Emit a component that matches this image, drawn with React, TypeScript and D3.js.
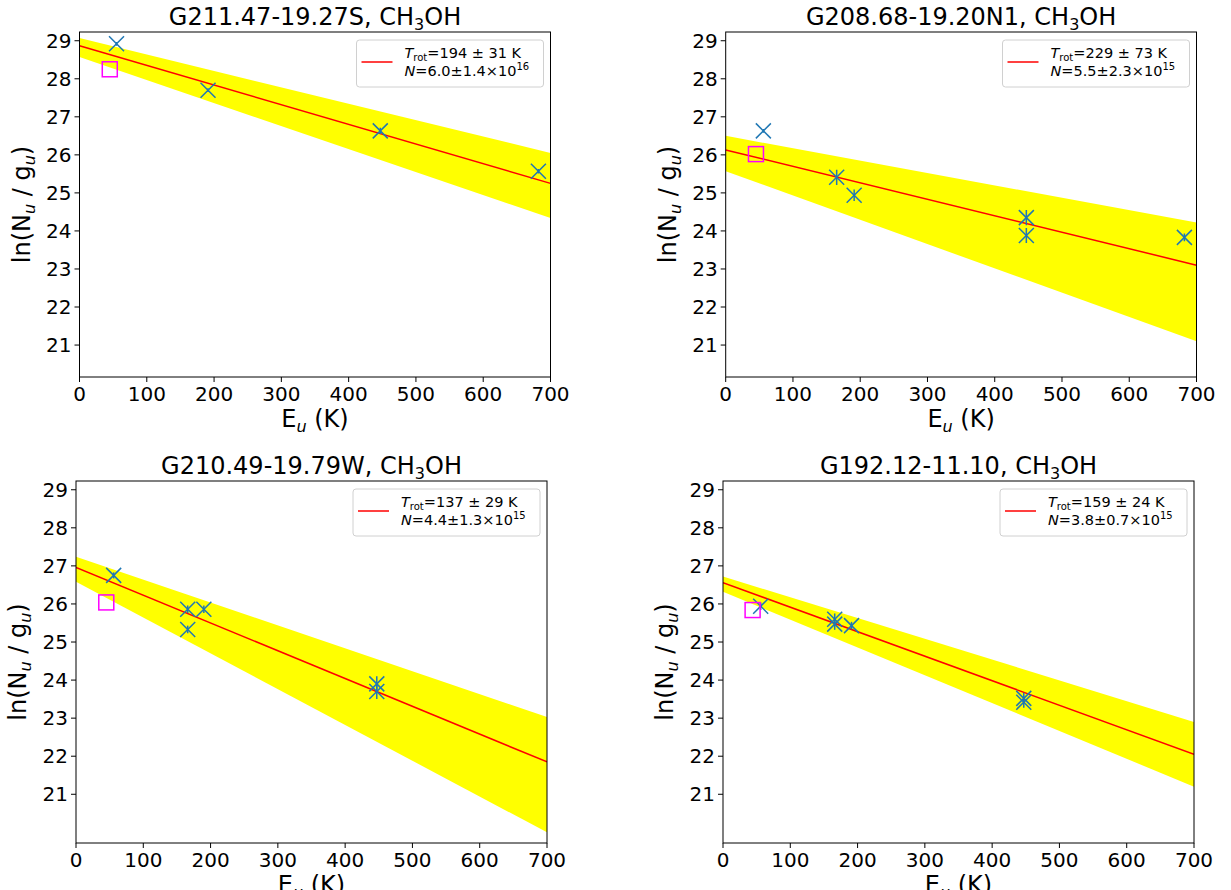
import React from "react";
import * as d3 from "d3";

// ---------- data ----------
const xTicks = [0, 100, 200, 300, 400, 500, 600, 700];
const yTicks = [21, 22, 23, 24, 25, 26, 27, 28, 29];
const fitE = [0, 700];

const titles = ["G211.47-19.27S", "G208.68-19.20N1", "G210.49-19.79W", "G192.12-11.10"];
const trotText = ["194 ± 31 K", "229 ± 73 K", "137 ± 29 K", "159 ± 24 K"];
const nMant = ["6.0±1.4×10", "5.5±2.3×10", "4.4±1.3×10", "3.8±0.7×10"];
const nExp = ["16", "15", "15", "15"];

const p1Eu = [55, 191, 447, 682];
const p1Ln = [28.92, 27.7, 26.63, 25.57];
const p1Err = [0.05, 0.05, 0.08, 0.06];
const p1Sq = [45, 28.25];
const p1Fit = [28.87, 25.25];
const p1BandTop = [29.07, 26.05];
const p1BandBot = [28.57, 24.34];

const p2Eu = [56, 165, 191, 447, 447, 682];
const p2Ln = [26.63, 25.41, 24.94, 24.35, 23.88, 23.83];
const p2Err = [0.05, 0.2, 0.15, 0.2, 0.2, 0.1];
const p2Sq = [45, 26.02];
const p2Fit = [26.13, 23.1];
const p2BandTop = [26.5, 24.22];
const p2BandBot = [25.57, 21.1];

const p3Eu = [56, 166, 190, 166, 447, 447];
const p3Ln = [26.75, 25.86, 25.86, 25.33, 23.9, 23.7];
const p3Err = [0.08, 0.1, 0.1, 0.1, 0.2, 0.2];
const p3Sq = [45, 26.04];
const p3Fit = [26.96, 21.85];
const p3BandTop = [27.24, 23.03];
const p3BandBot = [26.58, 20.0];

const p4Eu = [56, 166, 166, 191, 447, 447];
const p4Ln = [25.94, 25.6, 25.47, 25.43, 23.52, 23.42];
const p4Err = [0.1, 0.15, 0.15, 0.1, 0.15, 0.15];
const p4Sq = [44, 25.84];
const p4Fit = [26.56, 22.05];
const p4BandTop = [26.72, 22.9];
const p4BandBot = [26.32, 21.2];

const panelData = [
  { eu: p1Eu, ln: p1Ln, err: p1Err, sq: p1Sq, fit: p1Fit, top: p1BandTop, bot: p1BandBot },
  { eu: p2Eu, ln: p2Ln, err: p2Err, sq: p2Sq, fit: p2Fit, top: p2BandTop, bot: p2BandBot },
  { eu: p3Eu, ln: p3Ln, err: p3Err, sq: p3Sq, fit: p3Fit, top: p3BandTop, bot: p3BandBot },
  { eu: p4Eu, ln: p4Ln, err: p4Err, sq: p4Sq, fit: p4Fit, top: p4BandTop, bot: p4BandBot },
];

// ---------- layout ----------
const layouts = [
  { x0: 79.5, x1: 550.5, y0: 32, y1: 377, ymin: 20.16, ymax: 29.23 },
  { x0: 725.7, x1: 1196.5, y0: 32, y1: 377, ymin: 20.16, ymax: 29.23 },
  { x0: 76, x1: 547, y0: 481, y1: 843, ymin: 19.72, ymax: 29.23 },
  { x0: 723, x1: 1194, y0: 481, y1: 843, ymin: 19.72, ymax: 29.23 },
];

const FONT = "DejaVu Sans, sans-serif";
const BLUE = "#1f77b4";

function Panel({ i }: { i: number }) {
  const L = layouts[i];
  const D = panelData[i];
  const x = d3.scaleLinear().domain([0, 700]).range([L.x0, L.x1]);
  const y = d3.scaleLinear().domain([L.ymin, L.ymax]).range([L.y1, L.y0]);
  const area = d3
    .area<number>()
    .x((_, k) => x(fitE[k]))
    .y0((_, k) => y(D.bot[k]))
    .y1((_, k) => y(D.top[k]));
  const line = d3
    .line<number>()
    .x((_, k) => x(fitE[k]))
    .y((v) => y(v));
  const cx = (L.x0 + L.x1) / 2;
  const clipId = `clip${i}`;
  const ms = 7.5;
  const lgR = L.x1 - 7;
  const lgW = 187;
  const lgT = L.y0 + 8;
  const lgL = lgR - lgW;
  return (
    <g>
      <defs>
        <clipPath id={clipId}>
          <rect x={L.x0} y={L.y0} width={L.x1 - L.x0} height={L.y1 - L.y0} />
        </clipPath>
      </defs>
      <g clipPath={`url(#${clipId})`}>
        <path d={area(D.top) || ""} fill="#ffff00" />
        <path d={line(D.fit) || ""} stroke="red" strokeWidth={1.5} fill="none" />
        {D.eu.map((e, k) => {
          const px = x(e);
          const py = y(D.ln[k]);
          return (
            <g key={k} stroke={BLUE} strokeWidth={1.5}>
              <line x1={px} x2={px} y1={y(D.ln[k] - D.err[k])} y2={y(D.ln[k] + D.err[k])} />
              <line x1={px - ms} x2={px + ms} y1={py - ms} y2={py + ms} />
              <line x1={px - ms} x2={px + ms} y1={py + ms} y2={py - ms} />
            </g>
          );
        })}
        <rect
          x={x(D.sq[0]) - 7.5}
          y={y(D.sq[1]) - 7.5}
          width={15}
          height={15}
          fill="none"
          stroke="#ff00ff"
          strokeWidth={1.5}
        />
      </g>
      {/* spines */}
      <rect x={L.x0} y={L.y0} width={L.x1 - L.x0} height={L.y1 - L.y0} fill="none" stroke="#000" strokeWidth={1} />
      {/* x ticks */}
      {xTicks.map((t) => (
        <g key={t}>
          <line x1={x(t)} x2={x(t)} y1={L.y1} y2={L.y1 + 5} stroke="#000" strokeWidth={1} />
          <text x={x(t)} y={L.y1 + 24} textAnchor="middle" fontSize={20} fontFamily={FONT}>
            {t}
          </text>
        </g>
      ))}
      {yTicks.map((t) => (
        <g key={t}>
          <line x1={L.x0 - 5} x2={L.x0} y1={y(t)} y2={y(t)} stroke="#000" strokeWidth={1} />
          <text x={L.x0 - 8} y={y(t) + 7} textAnchor="end" fontSize={20} fontFamily={FONT}>
            {t}
          </text>
        </g>
      ))}
      {/* title */}
      <text x={cx} y={L.y0 - 7} textAnchor="middle" fontSize={24} fontFamily={FONT}>
        {titles[i]}, CH
        <tspan fontSize={16} dy={5}>3</tspan>
        <tspan dy={-5}>OH</tspan>
      </text>
      {/* x label */}
      <text x={cx} y={L.y1 + 50} textAnchor="middle" fontSize={24} fontFamily={FONT}>
        E<tspan fontSize={16} dy={5} fontStyle="italic">u</tspan>
        <tspan dy={-5}> (K)</tspan>
      </text>
      {/* y label */}
      <text
        transform={`translate(${L.x0 - 50},${(L.y0 + L.y1) / 2}) rotate(-90)`}
        textAnchor="middle"
        fontSize={24}
        fontFamily={FONT}
      >
        ln(N<tspan fontSize={16} dy={5} fontStyle="italic">u</tspan>
        <tspan dy={-5}> / g</tspan>
        <tspan fontSize={16} dy={5} fontStyle="italic">u</tspan>
        <tspan dy={-5}>)</tspan>
      </text>
      {/* legend */}
      <rect x={lgL} y={lgT} width={lgW} height={47} rx={3} fill="#fff" fillOpacity={0.8} stroke="#d0d0d0" strokeWidth={1} />
      <line x1={lgL + 5} x2={lgL + 36} y1={lgT + 22} y2={lgT + 22} stroke="red" strokeWidth={1.5} />
      <text x={lgL + 48} y={lgT + 18} fontSize={14.5} fontFamily={FONT}>
        <tspan fontStyle="italic">T</tspan>
        <tspan fontSize={10} dy={3}>rot</tspan>
        <tspan dy={-3}>={trotText[i]}</tspan>
      </text>
      <text x={lgL + 48} y={lgT + 36} fontSize={14.5} fontFamily={FONT}>
        <tspan fontStyle="italic">N</tspan>={nMant[i]}
        <tspan fontSize={10} dy={-6}>{nExp[i]}</tspan>
      </text>
    </g>
  );
}

export default function App() {
  return (
    <svg
      width={1231}
      height={890}
      style={{ position: "absolute", left: 0, top: 0, background: "#fff" }}
    >
      <rect width={1231} height={890} fill="#fff" />
      {[0, 1, 2, 3].map((i) => (
        <Panel key={i} i={i} />
      ))}
    </svg>
  );
}
